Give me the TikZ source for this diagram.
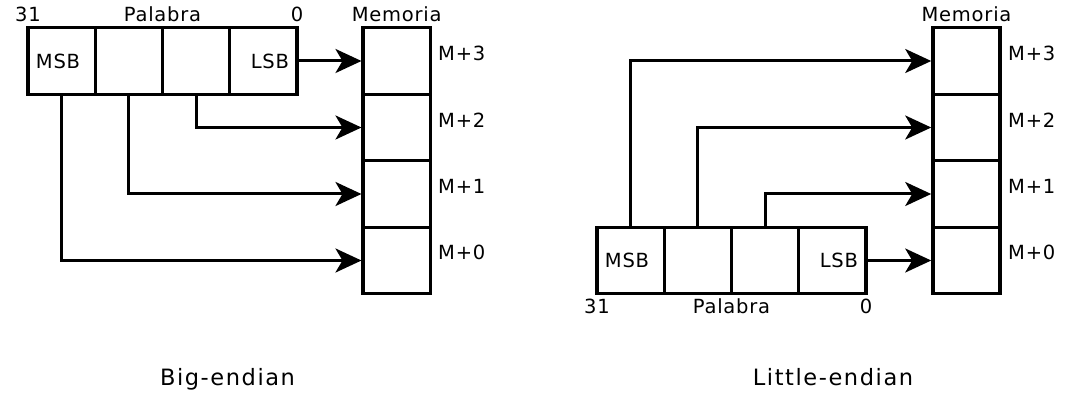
\documentclass[tikz,border=0pt]{standalone}
\usepackage{fontspec}
\setmainfont{DejaVu Sans}
\newfontfamily\lblfont[LetterSpace=4]{DejaVu Sans}
\newfontfamily\capfont[LetterSpace=7]{DejaVu Sans}
\usetikzlibrary{arrows.meta}
\begin{document}
\begin{tikzpicture}[x=1pt,y=-1pt,
 cell/.style={draw, line width=3.3pt, minimum width=67.25pt, minimum height=66.5pt, inner sep=0pt, font=\lblfont\fontsize{19.5}{23}\selectfont},
 lcell/.style={cell, text width=51.25pt, inner xsep=8pt, align=left},
 rcell/.style={cell, text width=51.25pt, inner xsep=8pt, align=right},
 lbl/.style={inner sep=0pt, font=\lblfont\fontsize{19.5}{23}\selectfont},
 title/.style={inner sep=0pt, font=\capfont\fontsize{22.5}{27}\selectfont},
 arr/.style={line width=3pt, -{Stealth[length=26pt,width=24pt,inset=7pt]}}
]
\useasboundingbox (0,0) rectangle (1073,403);

% ---------- Big-endian ----------
\node[lcell] (wl1) at (61.6,61) {MSB};
\node[cell]  (wl2) at (128.9,61) {};
\node[cell]  (wl3) at (196.1,61) {};
\node[rcell] (wl4) at (263.4,61) {LSB};

\node[cell] (ml3) at (396.75,61) {};
\node[cell] (ml2) at (396.75,127.5) {};
\node[cell] (ml1) at (396.75,194) {};
\node[cell] (ml0) at (396.75,260.5) {};

\node[lbl, anchor=base] (bl31) at (28,22) {31};
\node[lbl, anchor=base] (blpal) at (162.5,22) {Palabra};
\node[lbl, anchor=base] (bl0) at (297,22) {0};
\node[lbl, anchor=base] (blmem) at (396.75,22) {Memoria};

\node[lbl, anchor=base west] (blm3) at (438,61) {M+3};
\node[lbl, anchor=base west] (blm2) at (438,128) {M+2};
\node[lbl, anchor=base west] (blm1) at (438,194) {M+1};
\node[lbl, anchor=base west] (blm0) at (438,260) {M+0};

\draw[arr] (wl4.east) -- (ml3.west);
\draw[arr] (wl3.south) |- (ml2.west);
\draw[arr] (wl2.south) |- (ml1.west);
\draw[arr] (wl1.south) |- (ml0.west);

\node[title, anchor=base] (bigcap) at (227.5,385) {Big-endian};

% ---------- Little-endian ----------
\node[lcell] (wr1) at (630.6,260.5) {MSB};
\node[cell]  (wr2) at (697.9,260.5) {};
\node[cell]  (wr3) at (765.1,260.5) {};
\node[rcell] (wr4) at (832.4,260.5) {LSB};

\node[cell] (mr3) at (966.5,61) {};
\node[cell] (mr2) at (966.5,127.5) {};
\node[cell] (mr1) at (966.5,194) {};
\node[cell] (mr0) at (966.5,260.5) {};

\node[lbl, anchor=base] (lr31) at (597,313) {31};
\node[lbl, anchor=base] (lrpal) at (731.5,313) {Palabra};
\node[lbl, anchor=base] (lr0) at (866,313) {0};
\node[lbl, anchor=base] (lrmem) at (966.5,22) {Memoria};

\node[lbl, anchor=base west] (lrm3) at (1008,61) {M+3};
\node[lbl, anchor=base west] (lrm2) at (1008,128) {M+2};
\node[lbl, anchor=base west] (lrm1) at (1008,194) {M+1};
\node[lbl, anchor=base west] (lrm0) at (1008,260) {M+0};

\draw[arr] (wr4.east) -- (mr0.west);
\draw[arr] (wr1.north) |- (mr3.west);
\draw[arr] (wr2.north) |- (mr2.west);
\draw[arr] (wr3.north) |- (mr1.west);

\node[title, anchor=base] (littlecap) at (833,385) {Little-endian};
\end{tikzpicture}
\end{document}
